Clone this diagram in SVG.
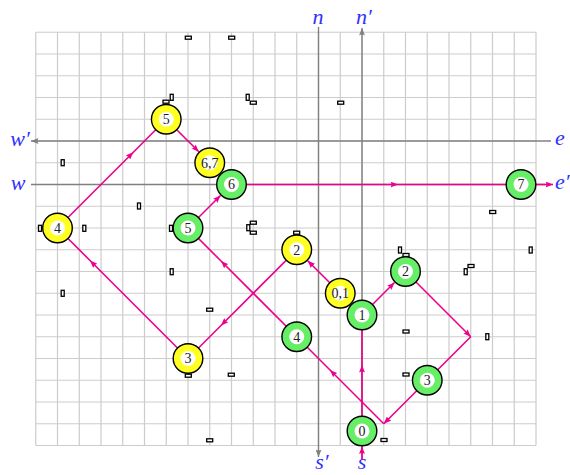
<svg xmlns="http://www.w3.org/2000/svg" width="570" height="475" viewBox="0 0 570 475">
<style>
.grid line{stroke:#cccccc;stroke-width:1.2}
.axis{stroke:#808080;stroke-width:1.4;fill:none}
.edge{stroke:#ec008c;stroke-width:1.6;fill:none}
.obs{fill:#fff;stroke:#000;stroke-width:1.3}
.lbl{font-family:"Liberation Serif","DejaVu Serif",serif;font-style:italic;font-size:22px;fill:#3030ff}
.num{font-family:"Liberation Serif","DejaVu Serif",serif;font-size:14px;fill:#222;text-anchor:middle}
.ring{stroke:#000;stroke-width:1.4}
.yel{fill:#ffff22}
.grn{fill:#66ee66}
.in{fill:#fff}
</style>
<defs>
<marker id="am" viewBox="0 0 10 8" refX="10" refY="4" markerWidth="7.5" markerHeight="6" markerUnits="userSpaceOnUse" orient="auto"><path d="M0,0 L10,4 L0,8 Q2.5,4 0,0z" fill="#ec008c"/></marker>
<marker id="ag" viewBox="0 0 10 8" refX="10" refY="4" markerWidth="7.5" markerHeight="6" markerUnits="userSpaceOnUse" orient="auto"><path d="M0,0 L10,4 L0,8 Q2.5,4 0,0z" fill="#808080"/></marker>
</defs>
<rect width="570" height="475" fill="#fff"/>
<g class="grid" id="grid">
<line x1="35.75" y1="32.25" x2="35.75" y2="445.5"/><line x1="57.5" y1="32.25" x2="57.5" y2="445.5"/><line x1="79.25" y1="32.25" x2="79.25" y2="445.5"/><line x1="101" y1="32.25" x2="101" y2="445.5"/><line x1="122.75" y1="32.25" x2="122.75" y2="445.5"/><line x1="144.5" y1="32.25" x2="144.5" y2="445.5"/><line x1="166.25" y1="32.25" x2="166.25" y2="445.5"/><line x1="188" y1="32.25" x2="188" y2="445.5"/><line x1="209.75" y1="32.25" x2="209.75" y2="445.5"/><line x1="231.5" y1="32.25" x2="231.5" y2="445.5"/><line x1="253.25" y1="32.25" x2="253.25" y2="445.5"/><line x1="275" y1="32.25" x2="275" y2="445.5"/><line x1="296.75" y1="32.25" x2="296.75" y2="445.5"/><line x1="318.5" y1="32.25" x2="318.5" y2="445.5"/><line x1="340.25" y1="32.25" x2="340.25" y2="445.5"/><line x1="362" y1="32.25" x2="362" y2="445.5"/><line x1="383.75" y1="32.25" x2="383.75" y2="445.5"/><line x1="405.5" y1="32.25" x2="405.5" y2="445.5"/><line x1="427.25" y1="32.25" x2="427.25" y2="445.5"/><line x1="449" y1="32.25" x2="449" y2="445.5"/><line x1="470.75" y1="32.25" x2="470.75" y2="445.5"/><line x1="492.5" y1="32.25" x2="492.5" y2="445.5"/><line x1="514.25" y1="32.25" x2="514.25" y2="445.5"/><line x1="536" y1="32.25" x2="536" y2="445.5"/>
<line x1="35.75" y1="32.25" x2="536" y2="32.25"/><line x1="35.75" y1="54" x2="536" y2="54"/><line x1="35.75" y1="75.75" x2="536" y2="75.75"/><line x1="35.75" y1="97.5" x2="536" y2="97.5"/><line x1="35.75" y1="119.25" x2="536" y2="119.25"/><line x1="35.75" y1="141" x2="536" y2="141"/><line x1="35.75" y1="162.75" x2="536" y2="162.75"/><line x1="35.75" y1="184.5" x2="536" y2="184.5"/><line x1="35.75" y1="206.25" x2="536" y2="206.25"/><line x1="35.75" y1="228" x2="536" y2="228"/><line x1="35.75" y1="249.75" x2="536" y2="249.75"/><line x1="35.75" y1="271.5" x2="536" y2="271.5"/><line x1="35.75" y1="293.25" x2="536" y2="293.25"/><line x1="35.75" y1="315" x2="536" y2="315"/><line x1="35.75" y1="336.75" x2="536" y2="336.75"/><line x1="35.75" y1="358.5" x2="536" y2="358.5"/><line x1="35.75" y1="380.25" x2="536" y2="380.25"/><line x1="35.75" y1="402" x2="536" y2="402"/><line x1="35.75" y1="423.75" x2="536" y2="423.75"/><line x1="35.75" y1="445.5" x2="536" y2="445.5"/>
</g>
<g id="axes">
<path class="axis" d="M551,141 L31,141" marker-end="url(#ag)"/>
<path class="axis" d="M31,184.5 L545,184.5"/>
<path class="axis" d="M318.5,27 L318.5,457" marker-end="url(#ag)"/>
<path class="axis" d="M362,459 L362,28" marker-end="url(#ag)"/>
</g>
<g id="labels">
<text class="lbl" x="318" y="24" text-anchor="middle">n</text>
<text class="lbl" x="364" y="24" text-anchor="middle">n′</text>
<text class="lbl" x="20" y="146" text-anchor="middle">w′</text>
<text class="lbl" x="18" y="190" text-anchor="middle">w</text>
<text class="lbl" x="555" y="145">e</text>
<text class="lbl" x="555" y="189">e′</text>
<text class="lbl" x="322" y="469" text-anchor="middle">s′</text>
<text class="lbl" x="362" y="469" text-anchor="middle">s</text>
</g>
<g id="obstacles">
<rect class="obs" x="185.3" y="36.2" width="6" height="3"/>
<rect class="obs" x="228.7" y="36.2" width="6" height="3"/>
<rect class="obs" x="170.2" y="94.3" width="3" height="6"/>
<rect class="obs" x="163" y="100.2" width="6" height="3"/>
<rect class="obs" x="246.2" y="94.3" width="3" height="6"/>
<rect class="obs" x="250.3" y="101.2" width="6" height="3"/>
<rect class="obs" x="337.7" y="101.2" width="6" height="3"/>
<rect class="obs" x="61.2" y="159.7" width="3" height="6"/>
<rect class="obs" x="137.5" y="203" width="3" height="6"/>
<rect class="obs" x="38.5" y="225.3" width="3" height="6"/>
<rect class="obs" x="82.8" y="225.3" width="3" height="6"/>
<rect class="obs" x="169.5" y="225.3" width="3" height="6"/>
<rect class="obs" x="250.3" y="221.2" width="6" height="3"/>
<rect class="obs" x="246.8" y="224.7" width="3" height="6"/>
<rect class="obs" x="250.3" y="231.2" width="6" height="3"/>
<rect class="obs" x="293.7" y="231.2" width="6" height="3"/>
<rect class="obs" x="489.7" y="210.5" width="6" height="3"/>
<rect class="obs" x="529.2" y="247" width="3" height="6"/>
<rect class="obs" x="398.5" y="247" width="3" height="6"/>
<rect class="obs" x="403" y="253.5" width="6" height="3"/>
<rect class="obs" x="468" y="264.5" width="6" height="3"/>
<rect class="obs" x="464.2" y="268.7" width="3" height="6"/>
<rect class="obs" x="170.2" y="268.7" width="3" height="6"/>
<rect class="obs" x="61.2" y="290.3" width="3" height="6"/>
<rect class="obs" x="206.7" y="308.2" width="6" height="3"/>
<rect class="obs" x="403" y="330" width="6" height="3"/>
<rect class="obs" x="485.8" y="333.7" width="3" height="6"/>
<rect class="obs" x="185.3" y="374.2" width="6" height="3"/>
<rect class="obs" x="228.3" y="373.2" width="6" height="3"/>
<rect class="obs" x="403" y="373" width="6" height="3"/>
<rect class="obs" x="206.7" y="438.8" width="6" height="3"/>
<rect class="obs" x="381" y="438.5" width="6" height="3"/>
</g>
<g id="connectors">
<path class="edge" d="M362,460 L362,446.5" marker-end="url(#am)"/>
<path class="edge" d="M362,431 L362,365 L362,315" marker-mid="url(#am)"/>
<path class="edge" d="M362,315 L394.5,282.5" marker-end="url(#am)"/>
<path class="edge" d="M405.5,271.5 L470.75,336.75" marker-end="url(#am)"/>
<path class="edge" d="M470.75,336.75 L427.25,380.25"/>
<path class="edge" d="M427.25,380.25 L383.75,423.75" marker-end="url(#am)"/>
<path class="edge" d="M383.75,423.75 L330,370 L296.75,336.75" marker-mid="url(#am)"/>
<path class="edge" d="M296.75,336.75 L221,261 L188,228" marker-mid="url(#am)"/>
<path class="edge" d="M188,228 L220.5,195.5" marker-end="url(#am)"/>
<path class="edge" d="M231.5,184.5 L398,184.5 L521,184.5" marker-mid="url(#am)"/>
<path class="edge" d="M521,184.5 L553,184.5" marker-end="url(#am)"/>
<path class="edge" d="M340.25,293.25 L307.7,260.7" marker-end="url(#am)"/>
<path class="edge" d="M296.75,249.75 L221,325.5 L188,358.5" marker-mid="url(#am)"/>
<path class="edge" d="M188,358.5 L90,260.5 L57.5,228" marker-mid="url(#am)"/>
<path class="edge" d="M57.5,228 L133.3,152.2 L166.25,119.25" marker-mid="url(#am)"/>
<path class="edge" d="M166.25,119.25 L198.8,151.8" marker-end="url(#am)"/>
</g>
<g id="y5"><circle class="ring yel" cx="166.25" cy="119.25" r="14.8"/><circle class="in" cx="166.25" cy="119.25" r="7.5"/><text class="num" x="166.25" y="124">5</text></g>
<g id="y67"><circle class="ring yel" cx="209.75" cy="162.75" r="14.8"/><circle class="in" cx="209.75" cy="162.75" r="7.5"/><text class="num" x="209.75" y="167.5">6,7</text></g>
<g id="y4"><circle class="ring yel" cx="57.5" cy="228" r="14.8"/><circle class="in" cx="57.5" cy="228" r="7.5"/><text class="num" x="57.5" y="232.8">4</text></g>
<g id="y2"><circle class="ring yel" cx="296.75" cy="249.75" r="14.8"/><circle class="in" cx="296.75" cy="249.75" r="7.5"/><text class="num" x="296.75" y="254.5">2</text></g>
<g id="y01"><circle class="ring yel" cx="340.25" cy="293.25" r="14.8"/><circle class="in" cx="340.25" cy="293.25" r="7.5"/><text class="num" x="340.25" y="298">0,1</text></g>
<g id="y3"><circle class="ring yel" cx="188" cy="358.5" r="14.8"/><circle class="in" cx="188" cy="358.5" r="7.5"/><text class="num" x="188" y="363.3">3</text></g>
<g id="g6"><circle class="ring grn" cx="231.5" cy="184.5" r="14.8"/><circle class="in" cx="231.5" cy="184.5" r="7.5"/><text class="num" x="231.5" y="189.3">6</text></g>
<g id="g5"><circle class="ring grn" cx="188" cy="228" r="14.8"/><circle class="in" cx="188" cy="228" r="7.5"/><text class="num" x="188" y="232.8">5</text></g>
<g id="g1"><circle class="ring grn" cx="362" cy="315" r="14.8"/><circle class="in" cx="362" cy="315" r="7.5"/><text class="num" x="362" y="319.8">1</text></g>
<g id="g2"><circle class="ring grn" cx="405.5" cy="271.5" r="14.8"/><circle class="in" cx="405.5" cy="271.5" r="7.5"/><text class="num" x="405.5" y="276.3">2</text></g>
<g id="g4"><circle class="ring grn" cx="296.75" cy="336.75" r="14.8"/><circle class="in" cx="296.75" cy="336.75" r="7.5"/><text class="num" x="296.75" y="341.5">4</text></g>
<g id="g3"><circle class="ring grn" cx="427.25" cy="380.25" r="14.8"/><circle class="in" cx="427.25" cy="380.25" r="7.5"/><text class="num" x="427.25" y="385">3</text></g>
<g id="g0"><circle class="ring grn" cx="362" cy="431" r="14.8"/><circle class="in" cx="362" cy="431" r="7.5"/><text class="num" x="362" y="435.8">0</text></g>
<g id="g7"><circle class="ring grn" cx="521" cy="184.5" r="14.8"/><circle class="in" cx="521" cy="184.5" r="7.5"/><text class="num" x="521" y="189.3">7</text></g>
</svg>
